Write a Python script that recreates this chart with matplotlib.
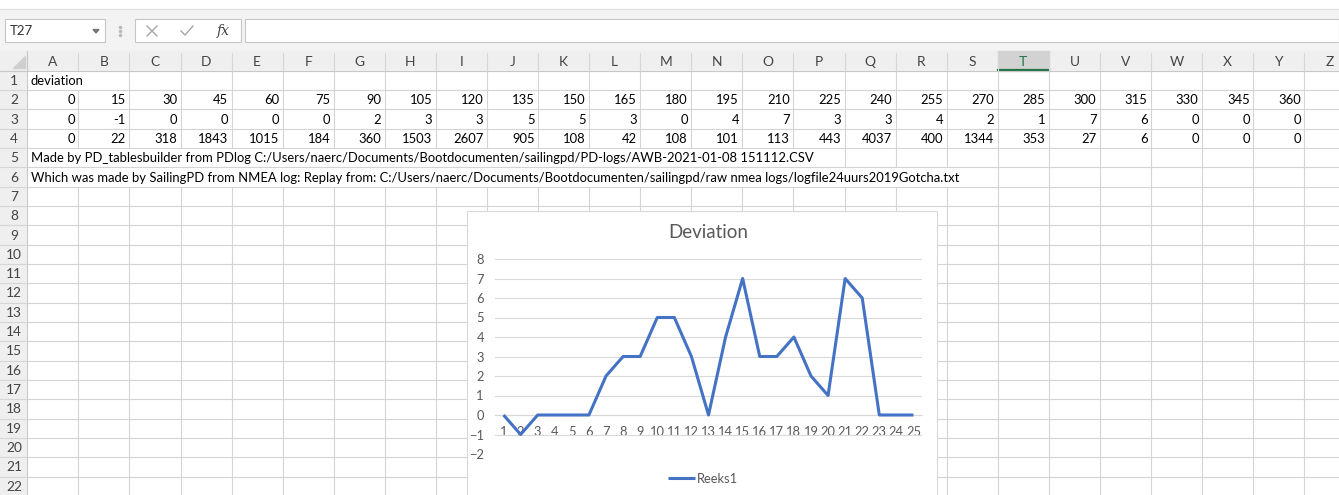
import matplotlib.pyplot as plt
from matplotlib.patches import Rectangle, Polygon
from matplotlib.collections import LineCollection
import numpy as np

plt.rcParams['font.family'] = ['Lato', 'DejaVu Sans']

# sheet content
columns = list('ABCDEFGHIJKLMNOPQRSTUVWXYZ')
headings = [0, 15, 30, 45, 60, 75, 90, 105, 120, 135, 150, 165, 180,
            195, 210, 225, 240, 255, 270, 285, 300, 315, 330, 345, 360]
deviation = [0, -1, 0, 0, 0, 0, 2, 3, 3, 5, 5, 3, 0, 4, 7, 3, 3, 4, 2, 1,
             7, 6, 0, 0, 0]
counts = [0, 22, 318, 1843, 1015, 184, 360, 1503, 2607, 905, 108, 42, 108,
          101, 113, 443, 4037, 400, 1344, 353, 27, 6, 0, 0, 0]
title_cell = 'deviation'
note_made = ('Made by PD_tablesbuilder from PDlog C:/Users/naerc/Documents/'
             'Bootdocumenten/sailingpd/PD-logs/AWB-2021-01-08 151112.CSV')
note_which = ('Which was made by SailingPD from NMEA log: Replay from: '
              'C:/Users/naerc/Documents/Bootdocumenten/sailingpd/raw nmea logs/'
              'logfile24uurs2019Gotcha.txt')
name_box = 'T27'
selected_col = 'T'
chart_title = 'Deviation'
series_name = 'Reeks1'

W, H = 1339, 495
col_left, col_w = 27.3, 51.08
row_top, row_h = 70.7, 19.33
n_rows = 22
grid_c = '#d4d4d4'
head_c = '#444444'
blue = '#4472C4'
gray_txt = '#595959'

fig = plt.figure(figsize=(W / 100, H / 100), dpi=100)
sheet = fig.add_axes([0, 0, 1, 1])
sheet.set_xlim(0, W)
sheet.set_ylim(H, 0)
sheet.axis('off')


def cx(i):
    return col_left + i * col_w


def ry(j):
    return row_top + (j - 1) * row_h


# ribbon / formula bar
sheet.add_patch(Rectangle((0, 0), W, 9, color='white'))
sheet.add_patch(Rectangle((0, 9), W, 42, color='#f3f3f3'))
sheet.plot([0, W], [9, 9], color='#e0e0e0', lw=0.8)
sheet.add_patch(Rectangle((5, 19), 100, 23, facecolor='white', edgecolor='#c6c6c6', lw=0.8))
sheet.text(10, 31, name_box, fontsize=9.5, va='center', color='#333333')
sheet.add_patch(Polygon([(93, 29.5), (99, 29.5), (96, 33)], color='#777777'))
sheet.plot([120, 120, 120], [27, 31, 35], 'o', ms=1.5, color='#b8b8b8')
sheet.add_patch(Rectangle((135, 19), 106, 23, facecolor='white', edgecolor='#c6c6c6', lw=0.8))
sheet.plot([147, 157], [26, 36], color='#a6a6a6', lw=1)
sheet.plot([147, 157], [36, 26], color='#a6a6a6', lw=1)
sheet.plot([181, 185, 193], [31, 35, 26], color='#a6a6a6', lw=1)
sheet.text(223, 31, 'fx', fontsize=10, va='center', ha='center', style='italic',
           family='DejaVu Serif', color='#444444')
sheet.add_patch(Rectangle((245, 19), W - 245, 23, facecolor='white', edgecolor='#c6c6c6', lw=0.8))

# headers
sheet.add_patch(Rectangle((0, 51), W, row_top - 51, color='#efefef'))
sheet.add_patch(Rectangle((0, row_top), col_left, H - row_top, color='#efefef'))
sheet.add_patch(Polygon([(25, 56), (25, 68), (13, 68)], color='#cfcfcf'))
sheet.add_patch(Rectangle((col_left, row_top), W - col_left, H - row_top, color='white'))
ti = columns.index(selected_col)
sheet.add_patch(Rectangle((cx(ti), 51), col_w, row_top - 51, color='#d2d2d2'))
sheet.plot([cx(ti), cx(ti + 1)], [row_top - 1, row_top - 1], color='#217346', lw=1.6)

texts = []
for i, c in enumerate(columns):
    texts.append(sheet.text(cx(i) + col_w / 2, 61.5, c, ha='center', va='center',
                            color='#217346' if c == selected_col else head_c))
    sheet.plot([cx(i), cx(i)], [53, row_top], color='#d6d6d6', lw=0.8)
for j in range(1, n_rows + 1):
    texts.append(sheet.text(14, ry(j) + row_h / 2 + 0.5, str(j), ha='center',
                            va='center', color=head_c))
    sheet.plot([0, col_left], [ry(j), ry(j)], color='#d6d6d6', lw=0.8)
sheet.plot([0, W], [row_top, row_top], color='#c8c8c8', lw=0.8)
sheet.plot([col_left, col_left], [51, H], color='#c8c8c8', lw=0.8)

# cell values
cells = []
cells.append((1, sheet.text(cx(0) + 3.5, ry(1) + row_h / 2 + 0.5, title_cell, va='center')))
for r, row in [(2, headings), (3, deviation), (4, counts)]:
    for i, v in enumerate(row):
        cells.append((r, sheet.text(cx(i + 1) - 3.5, ry(r) + row_h / 2 + 0.5, str(v),
                                    ha='right', va='center')))
t5 = sheet.text(cx(0) + 3.5, ry(5) + row_h / 2 + 0.5, note_made, va='center')
t6 = sheet.text(cx(0) + 3.5, ry(6) + row_h / 2 + 0.5, note_which, va='center')
cells += [(5, t5), (6, t6)]

# fit cell font to the screenshot text width
t6.set_fontsize(10)
fig.canvas.draw()
r = fig.canvas.get_renderer()
wpx = t6.get_window_extent(r).width
fs = 10 * 925 / wpx
for _, t in cells:
    t.set_fontsize(fs)
    t.set_color('black')
for t in texts:
    t.set_fontsize(fs + 0.6)
fig.canvas.draw()

inv = sheet.transData.inverted()
overflow = {}
for rr, t in [(1, cells[0][1]), (5, t5), (6, t6)]:
    bb = t.get_window_extent(r)
    overflow[rr] = inv.transform((bb.x1, bb.y0))[0]

segs = []
for j in range(1, n_rows + 1):
    y0, y1 = ry(j), ry(j + 1)
    segs.append([(col_left, y1), (W, y1)])
    for i in range(1, 27):
        x = cx(i)
        if j in overflow and x < overflow[j]:
            continue
        segs.append([(x, y0), (x, y1)])
sheet.add_collection(LineCollection(segs, colors=grid_c, linewidths=0.8))

# chart object
sheet.add_patch(Rectangle((466.5, 210.5), 470.5, 300, facecolor='white',
                          edgecolor='#d9d9d9', lw=0.8, zorder=5))

x = np.arange(1, len(deviation) + 1)
ax = fig.add_axes([495 / W, 1 - 454 / H, (922 - 495) / W, (454 - 259) / H])
ax.patch.set_visible(False)
ax.plot(x, deviation, color=blue, lw=2.2, solid_joinstyle='round',
        solid_capstyle='butt', label=series_name, zorder=3)
ax.set_xlim(0.5, len(deviation) + 0.5)
ax.set_ylim(-2, 8)
ax.set_yticks(range(-2, 9))
ax.set_xticks(x)
ax.grid(axis='y', color='#d9d9d9', lw=0.8)
for s in ['top', 'right', 'left']:
    ax.spines[s].set_visible(False)
ax.spines['bottom'].set_position(('data', 0))
ax.spines['bottom'].set_color('#d9d9d9')
ax.spines['bottom'].set_linewidth(0.8)
ax.tick_params(axis='y', length=0, pad=8, labelsize=9.3, labelcolor=gray_txt)
ax.tick_params(axis='x', length=0, pad=8, labelsize=9.3, labelcolor=gray_txt)
ax.set_title(chart_title, fontsize=13.5, color=gray_txt, pad=15)
fig.legend(loc='center', bbox_to_anchor=(703 / W, 1 - 479 / H), frameon=False,
           handlelength=2.1, handletextpad=0.15, fontsize=9.3, labelcolor=gray_txt)

fig.savefig('out.png', dpi=100)
